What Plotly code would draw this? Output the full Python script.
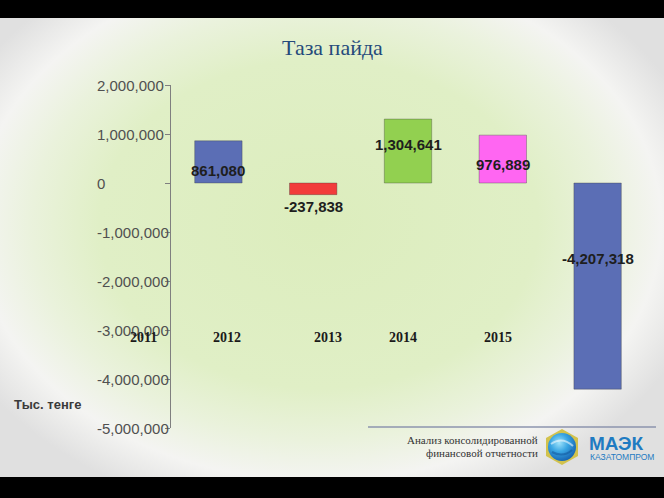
import base64
import plotly.graph_objects as go

# ---- data ----
categories = ["2011", "2012", "2013", "2014", "2015"]
values = [861080, -237838, 1304641, 976889, -4207318]
bar_colors = ["#5b6eb5", "#f23b3b", "#92d050", "#ff66f2", "#5b6eb5"]
year_labels = ["2011", "2012", "2013", "2014", "2015"]
y_tick_values = [2000000, 1000000, 0, -1000000, -2000000, -3000000, -4000000, -5000000]
title_text = "Таза пайда"
unit_text = "Тыс. тенге"
footer_lines = ["Анализ консолидированной", "финансовой отчетности"]

# ---- style / layout (pixel geometry of the slide) ----
W, H = 664, 498
L, R, T, B = 171, 19, 85, 70
PW, PH = W - L - R, H - T - B
label_shift = [13, -23, 39, 19, -75]          # px offsets of value labels from y=0
year_label_px = [143, 227, 328, 403, 498]     # x centers of year captions
year_label_py = 337

def px_x(x):
    return (x - L) / PW

def px_y(y):
    return (H - B - y) / PH

svg = f'''<svg xmlns="http://www.w3.org/2000/svg" width="{W}" height="{H}" viewBox="0 0 {W} {H}" preserveAspectRatio="none">
<defs>
<radialGradient id="bg" cx="48%" cy="45%" r="60%">
<stop offset="0%" stop-color="#dcedbd"/>
<stop offset="55%" stop-color="#e0efc6"/>
<stop offset="72%" stop-color="#eaf2dc"/>
<stop offset="86%" stop-color="#f4f4f2"/>
<stop offset="100%" stop-color="#e0e0e0"/>
</radialGradient>
<radialGradient id="globe" cx="40%" cy="35%" r="70%">
<stop offset="0%" stop-color="#9fe3fb"/>
<stop offset="45%" stop-color="#3aa6e3"/>
<stop offset="100%" stop-color="#145fae"/>
</radialGradient>
</defs>
<rect x="0" y="0" width="{W}" height="{H}" fill="url(#bg)"/>
<rect x="0" y="0" width="{W}" height="18" fill="#000"/>
<rect x="0" y="477" width="{W}" height="{H-477}" fill="#000"/>
<line x1="368" y1="427" x2="656" y2="427" stroke="#8c94ae" stroke-width="1.5"/>
<polygon points="562,429 578,438 578,456 562,465 546,456 546,438" fill="#d2c24c"/>
<polygon points="562,433 574,440 574,454 562,461 550,454 550,440" fill="#e9dd86"/>
<circle cx="562" cy="447" r="14" fill="url(#globe)"/>
<path d="M551,444 Q562,436 573,446" stroke="#ffffff" stroke-opacity="0.55" stroke-width="2" fill="none"/>
<path d="M552,452 Q563,458 572,450" stroke="#0d4f95" stroke-opacity="0.5" stroke-width="2" fill="none"/>
</svg>'''
bg_uri = "data:image/svg+xml;base64," + base64.b64encode(svg.encode("utf-8")).decode("ascii")

fig = go.Figure()
fig.add_trace(go.Bar(
    x=categories, y=values,
    marker=dict(color=bar_colors, line=dict(color="rgba(60,60,60,0.35)", width=1)),
    width=0.5, hoverinfo="skip", showlegend=False,
))

annotations = []
# value labels (x given as category index)
for i, (v, s) in enumerate(zip(values, label_shift)):
    annotations.append(dict(
        x=i, y=0, xref="x", yref="y", yshift=s, showarrow=False,
        text=f"<b>{v:,}</b>", xanchor="center", yanchor="middle",
        font=dict(family="Liberation Sans, Arial", size=15, color="#1e1e1e"),
    ))
# left-aligned y tick labels
for tv in y_tick_values:
    annotations.append(dict(
        x=px_x(95), y=tv, xref="paper", yref="y", showarrow=False,
        text=f"{tv:,}", xanchor="left", yanchor="middle",
        font=dict(family="Liberation Sans, Arial", size=15, color="#505050"),
    ))
# year captions
for lab, xp in zip(year_labels, year_label_px):
    annotations.append(dict(
        x=px_x(xp), y=px_y(year_label_py), xref="paper", yref="paper", showarrow=False,
        text=f"<b>{lab}</b>", xanchor="center", yanchor="middle",
        font=dict(family="Liberation Serif, DejaVu Serif", size=14, color="#1a1a1a"),
    ))
# title
annotations.append(dict(
    x=px_x(332), y=px_y(47), xref="paper", yref="paper", showarrow=False,
    text=title_text, xanchor="center", yanchor="middle",
    font=dict(family="Liberation Serif, DejaVu Serif", size=22, color="#254a7b"),
))
# unit
annotations.append(dict(
    x=px_x(12), y=px_y(404), xref="paper", yref="paper", showarrow=False,
    text=f"<b>{unit_text}</b>", xanchor="left", yanchor="middle",
    font=dict(family="Liberation Sans, Arial", size=13, color="#3a3a3a"),
))
# footer
for line, yy in zip(footer_lines, [440, 453]):
    annotations.append(dict(
        x=px_x(540), y=px_y(yy), xref="paper", yref="paper", showarrow=False,
        text=line, xanchor="right", yanchor="middle",
        font=dict(family="Liberation Serif, DejaVu Serif", size=11, color="#333333"),
    ))
# logo text
annotations.append(dict(
    x=px_x(587), y=px_y(443), xref="paper", yref="paper", showarrow=False,
    text="<b>МАЭК</b>", xanchor="left", yanchor="middle",
    font=dict(family="Liberation Sans, Arial", size=19, color="#1f7bc2"),
))
annotations.append(dict(
    x=px_x(588), y=px_y(457), xref="paper", yref="paper", showarrow=False,
    text="КАЗАТОМПРОМ", xanchor="left", yanchor="middle",
    font=dict(family="Liberation Sans, Arial", size=8.5, color="#1f7bc2"),
))

fig.update_layout(
    width=W, height=H,
    margin=dict(l=L, r=R, t=T, b=B, pad=0),
    paper_bgcolor="#ffffff", plot_bgcolor="rgba(0,0,0,0)",
    bargap=0.5,
    annotations=annotations,
    images=[dict(
        source=bg_uri, xref="paper", yref="paper",
        x=-L / PW, y=1 + T / PH, sizex=W / PW, sizey=H / PH,
        xanchor="left", yanchor="top", sizing="stretch", layer="below",
    )],
    xaxis=dict(type="category", categoryorder="array", categoryarray=categories,
               range=[-0.5, len(categories) - 0.5],
               showticklabels=False, showline=False, showgrid=False, zeroline=False,
               ticks="", fixedrange=True),
    yaxis=dict(range=[-5000000, 2000000], tickvals=y_tick_values, showticklabels=False,
               ticks="outside", ticklen=5, tickcolor="#7f7f7f", tickwidth=1,
               showline=True, linecolor="#7f7f7f", linewidth=1,
               showgrid=False, zeroline=False, fixedrange=True),
)

fig.write_html("out.html", config={"displayModeBar": False},
               post_script="document.body.style.margin='0';document.body.style.padding='0';")
